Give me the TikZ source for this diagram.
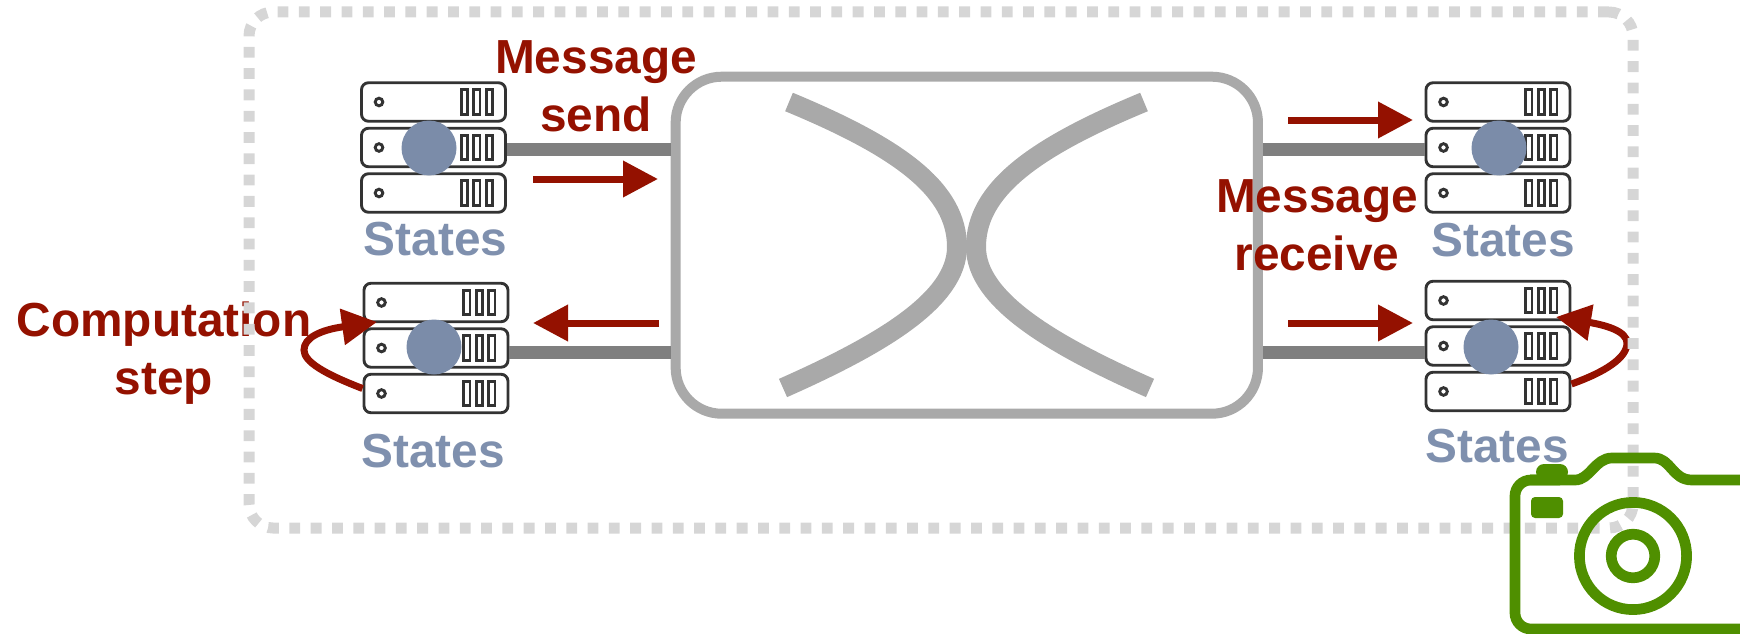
\documentclass[tikz,border=0pt]{standalone}
\usepackage{fontspec}
\setmainfont{Liberation Sans}
\usepackage{xcolor}
\usetikzlibrary{
  arrows.meta,
  positioning
}
\definecolor{redStroke}{HTML}{941100}
\definecolor{blueFill}{HTML}{7B8CA9}
\definecolor{blueTxt}{HTML}{7F90AE}
\definecolor{switchStroke}{HTML}{A9A9A9}
\definecolor{linkStroke}{HTML}{7F7F7F}
\definecolor{rowStroke}{HTML}{333333}
\definecolor{frameStroke}{HTML}{D6D6D6}
\definecolor{greenStroke}{HTML}{4F8F00}
\tikzset{
  row node/.style={
    rectangle, rounded corners=7pt,
    minimum width=144pt, minimum height=38.5pt,
    inner sep=0pt,
    draw=rowStroke, line width=2.9pt
  },
  serverstack/.pic={
    \foreach \rowname/\rowpos in {a/-45.5, b/0, c/45.5} {
      \node[row node] (-\rowname) at (0,\rowpos) {};
      \draw[rowStroke, line width=2.9pt] (-54.5,\rowpos) circle (3.8);
      \foreach \slot in {27.7, 40.2, 52.7} {
        \draw[rowStroke, line width=2.9pt]
          (\slot,\rowpos-12.4) rectangle (\slot+6.3,\rowpos+12.4);
      }
    }
  },
  state node/.style={
    circle, minimum size=55pt, inner sep=0pt, outer sep=0pt, fill=blueFill
  },
  states label/.style={
    anchor=base, inner sep=0pt, text=blueTxt,
    font=\fontsize{47.8}{57}\selectfont\bfseries
  },
  red label/.style={
    align=center, inner sep=0pt, text=redStroke,
    font=\fontsize{47.8}{58}\selectfont\bfseries
  },
  switch node/.style={
    rectangle, rounded corners=46pt,
    minimum width=582.3pt, minimum height=337pt,
    draw=switchStroke, line width=10pt
  },
  frame node/.style={
    rectangle, rounded corners=24pt,
    minimum width=1384pt, minimum height=516pt,
    draw=frameStroke, line width=11pt,
    dash pattern=on 10.8pt off 10.5pt
  },
  link/.style={linkStroke, line width=13pt},
  fabric/.style={switchStroke, line width=20pt},
  red arrow/.style={
    -{Triangle[length=35pt,width=35pt]}, redStroke, line width=7pt
  },
  camera line/.style={greenStroke, line width=10.7pt}
}

\begin{document}
\begin{tikzpicture}[x=1pt, y=-1pt]
    \clip (0,0) rectangle (1740,634);

    % Nodes
    \node[switch node] (switch) at (966.8,245.2) {};
    \pic (serverA) at (433.5,147.5) {serverstack};
    \pic (serverB) at (1498,147.5) {serverstack};
    \pic (serverC) at (436,348) {serverstack};
    \pic (serverD) at (1498,346) {serverstack};
    \node[state node] (stateA) at (429,148) {};
    \node[state node] (stateB) at (1499,148) {};
    \node[state node] (stateC) at (434,347) {};
    \node[state node] (stateD) at (1491,347) {};
    \node[states label] (statesA) at (435.5,255) {States};
    \node[states label] (statesB) at (1503,256) {States};
    \node[states label] (statesC) at (433,467) {States};
    \node[states label] (statesD) at (1497,462) {States};
    \node[red label] (send) at (596,86) {Message\\send};
    \node[red label] (receive) at (1317,225) {Message\\receive};
    \node[red label] (computation) at (164,353) {Computation\\step};

    % Links
    \draw[link] ([yshift=-1.5pt]serverA-b.east) -- ([yshift=-1.5pt]serverA-b.east -| switch.west);
    \draw[link] ([yshift=-1.5pt]serverB-b.west) -- ([yshift=-1.5pt]serverB-b.west -| switch.east);
    \draw[link] ([yshift=-4pt]serverC-b.east) -- ([yshift=-4pt]serverC-b.east -| switch.west);
    \draw[link] ([yshift=-6pt]serverD-b.west) -- ([yshift=-6pt]serverD-b.west -| switch.east);

    % Fabric
    \draw[fabric] (789,102) .. controls (900,148) and (957,190) .. (957,247)
      .. controls (957,300) and (880,345) .. (783,388);
    \draw[fabric] (1144,102) .. controls (1033,148) and (976,190) .. (976,247)
      .. controls (976,300) and (1053,345) .. (1150,388);

    % Arrows
    \coordinate (sendTail) at (533,179);
    \coordinate (sendTip) at (658,179);
    \coordinate (deliverTail) at (1288,120);
    \coordinate (deliverTip) at (1413,120);
    \coordinate (backTail) at (659,323);
    \coordinate (backTip) at (533,323);
    \coordinate (receiveTail) at (1288,323);
    \coordinate (receiveTip) at (1413,323);
    \coordinate (stepTipC) at (377,322);
    \coordinate (stepTipD) at (1556,317);
    \draw[red arrow] (sendTail) -- (sendTip);
    \draw[red arrow] (deliverTail) -- (deliverTip);
    \draw[red arrow] (backTail) -- (backTip);
    \draw[red arrow] (receiveTail) -- (receiveTip);
    \draw[red arrow] ([yshift=5pt]serverC-c.west)
      .. controls (325,374) and (304,362) .. (304,350)
      .. controls (304,338) and (320,330) .. (stepTipC);
    \draw[red arrow] ([yshift=7.5pt]serverD-c.east)
      .. controls (1605,372) and (1627,358) .. (1627,343)
      .. controls (1627,331) and (1605,325) .. (stepTipD);

    % Frame
    \node[frame node] (frame) at (941,270) {};

    % Camera
    \draw[camera line, rounded corners=16pt]
      (1760,629) -- (1515,629) -- (1515,480) -- (1560,480);
    \draw[camera line]
      (1530,480) -- (1575,480) .. controls (1590,480) and (1595,458) .. (1612,458)
      -- (1654,458) .. controls (1671,458) and (1672,480) .. (1692,480) -- (1760,480);
    \fill[greenStroke, rounded corners=8pt] (1536,480) -- (1536,464) -- (1568,464) -- (1568,480) -- cycle;
    \fill[greenStroke, rounded corners=4pt] (1531,497) rectangle (1563,518);
    \draw[camera line] (1633,556) circle (53.6);
    \draw[camera line] (1633,556) circle (21.8);
\end{tikzpicture}
\end{document}
